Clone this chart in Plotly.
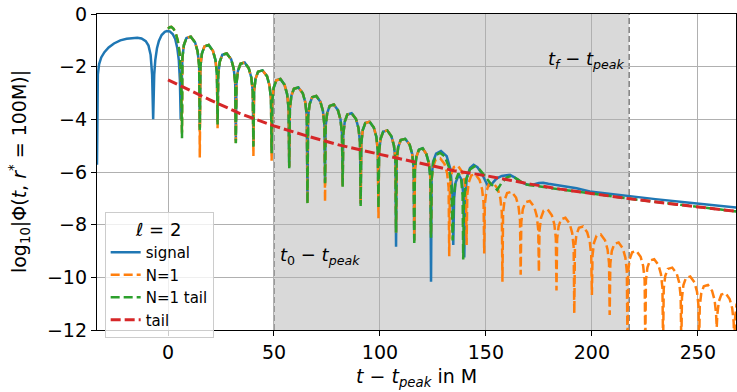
import plotly.graph_objects as go

# ---------------- data ----------------
# shared ringdown arches (interior points of lobes, 6.5 < t < 124.1)
ring_x = [6.8, 7.5, 8.7, 10.75, 12.8, 14.0, 14.7,
          15.3, 16.0, 17.2, 19.2, 21.2, 22.4, 23.1,
          23.7, 24.4, 25.6, 27.7, 29.8, 31.0, 31.7,
          32.3, 33.0, 34.2, 36.15, 38.1, 39.3, 40.0,
          40.6, 41.3, 42.5, 44.6, 46.7, 47.9, 48.6,
          49.2, 49.9, 51.1, 53.05, 55.0, 56.2, 56.9,
          57.5, 58.2, 59.4, 61.5, 63.6, 64.8, 65.5,
          66.1, 66.8, 68.0, 69.95, 71.9, 73.1, 73.8,
          74.4, 75.1, 76.3, 78.25, 80.2, 81.4, 82.1,
          82.7, 83.4, 84.6, 86.65, 88.7, 89.9, 90.6,
          91.2, 91.9, 93.1, 95.1, 97.1, 98.3, 99.0,
          99.6, 100.3, 101.5, 103.45, 105.4, 106.6, 107.3,
          107.9, 108.6, 109.8, 111.9, 114.0, 115.2, 115.9,
          116.5, 117.2, 118.4, 120.15, 121.9, 123.1, 123.8]
ring_y = [-1.66, -1.18, -0.91, -0.86, -1.08, -1.43, -1.96,
          -1.98, -1.50, -1.23, -1.18, -1.40, -1.75, -2.28,
          -2.30, -1.82, -1.55, -1.50, -1.72, -2.07, -2.60,
          -2.64, -2.16, -1.89, -1.84, -2.06, -2.41, -2.94,
          -2.94, -2.46, -2.19, -2.14, -2.36, -2.71, -3.24,
          -3.27, -2.79, -2.52, -2.47, -2.69, -3.04, -3.57,
          -3.59, -3.11, -2.84, -2.79, -3.01, -3.36, -3.89,
          -3.91, -3.43, -3.16, -3.11, -3.33, -3.68, -4.21,
          -4.24, -3.76, -3.49, -3.44, -3.66, -4.01, -4.54,
          -4.57, -4.09, -3.82, -3.77, -3.99, -4.34, -4.87,
          -4.89, -4.41, -4.14, -4.09, -4.31, -4.66, -5.19,
          -5.22, -4.74, -4.47, -4.42, -4.64, -4.99, -5.52,
          -5.54, -5.06, -4.79, -4.74, -4.96, -5.31, -5.84,
          -5.90, -5.42, -5.15, -5.10, -5.32, -5.67, -6.20]
ring_dip_x = [15.0, 23.4, 32.0, 40.3, 48.9, 57.2, 65.8, 74.1, 82.4, 90.9, 99.3, 107.6, 116.2]
signal_dip_y = [-4.3, -4.1, -4.8, -5.0, -5.2, -5.8, -7.1, -6.4, -6.5, -7.2, -7.3, -8.84, -8.6]
n1_dip_y = [-5.45, -4.34, -4.9, -5.39, -5.57, -5.8, -7.2, -7.13, -6.56, -7.2, -7.76, -8.3, -8.6]
n1tail_dip_y = [-4.4, -4.2, -4.91, -5.04, -5.29, -5.86, -7.22, -6.43, -6.56, -7.29, -7.37, -8.3, -8.77]

# signal before the fits start
signal_pre_x = [-33.5, -33.35, -33.1, -32.5, -31.5, -30.0, -28.0, -25.5, -22.5, -19.5,
                -16.5, -14.5, -12.5, -10.5, -9.2, -8.2, -7.5, -7.0, -6.5, -6.0,
                -5.2, -4.3, -3.0, -1.5, -0.5, 0.8, 2.2, 3.4, 4.4, 5.1, 5.6, 6.0]
signal_pre_y = [-5.72, -3.2, -2.3, -1.9, -1.65, -1.45, -1.27, -1.12, -1.0, -0.94,
                -0.9, -0.9, -0.93, -1.03, -1.2, -1.55, -2.3, -4.0, -2.3, -1.75,
                -1.3, -1.02, -0.8, -0.68, -0.65, -0.66, -0.76, -0.95, -1.3, -1.75, -2.5, -4.0]
# signal after the shared lobes
signal_post_x = [124.1, 124.4, 125.1, 126.5, 128.8, 131.5, 133.3, 134.2, 134.6, 135.0,
                 135.7, 137.2, 138.6, 139.4, 139.8, 140.2, 141.0, 142.5, 144.2, 146.0,
                 148.0, 149.8, 151.1, 152.8, 155.0, 157.5, 160.0, 161.3, 163.5, 166.5,
                 169.5, 172.5, 175.0, 177.0, 179.5, 183.4, 188.0, 192.8, 199.0, 205.0,
                 211.0, 217.6, 230.0, 245.0, 258.0, 268.5]
signal_post_y = [-10.17, -6.2, -5.6, -5.3, -5.2, -5.4, -5.9, -6.8, -8.77, -7.0,
                 -6.4, -6.11, -6.3, -6.9, -9.25, -7.0, -6.2, -5.85, -5.73, -5.82,
                 -6.05, -6.35, -6.55, -6.45, -6.25, -6.15, -6.12, -6.11, -6.2, -6.38,
                 -6.48, -6.47, -6.42, -6.41, -6.45, -6.5, -6.56, -6.62, -6.74, -6.8,
                 -6.86, -6.92, -7.03, -7.16, -7.27, -7.35]

# start of both fits
fit_start_x = [0.0, 0.8, 1.6, 2.6, 3.6, 4.6, 5.5, 6.1, 6.6]
n1_start_y = [-0.56, -0.5, -0.49, -0.56, -0.72, -1.0, -1.5, -2.3, -4.5]
n1tail_start_y = [-0.56, -0.5, -0.49, -0.56, -0.72, -1.0, -1.5, -2.3, -4.72]

# N=1 fit after the shared lobes
n1_arch_x = [124.4, 125.1, 126.3, 128.4, 130.5, 131.7, 132.4,
             133.0, 133.7, 134.9, 136.8, 138.7, 139.9, 140.6,
             141.2, 141.9, 143.1, 145.05, 147.0, 148.2, 148.9,
             149.5, 150.2, 151.4, 153.5, 155.6, 156.8, 157.5,
             158.1, 158.8, 160.0, 162.1, 164.2, 165.4, 166.1,
             166.7, 167.4, 168.6, 170.7, 172.8, 174.0, 174.7,
             175.3, 176.0, 177.2, 179.15, 181.1, 182.3, 183.0,
             183.6, 184.3, 185.5, 187.5, 189.5, 190.7, 191.4,
             192.0, 192.7, 193.9, 195.85, 197.8, 199.0, 199.7,
             200.3, 201.0, 202.2, 204.2, 206.2, 207.4, 208.1,
             208.7, 209.4, 210.6, 212.6, 214.6, 215.8, 216.5,
             217.1, 217.8, 219.0, 221.0, 223.0, 224.2, 224.9,
             225.5, 226.2, 227.4, 229.4, 231.4, 232.6, 233.3,
             233.9, 234.6, 235.8, 237.9, 240.0, 241.2, 241.9,
             242.5, 243.2, 244.4, 246.4, 248.4, 249.6, 250.3,
             250.9, 251.6, 252.8, 254.75, 256.7, 257.9, 258.6,
             259.2, 259.9, 261.1, 263.05, 265.0, 266.2, 266.9]
n1_arch_y = [-6.28, -5.80, -5.53, -5.48, -5.70, -6.05, -6.58,
             -6.56, -6.08, -5.81, -5.76, -5.98, -6.33, -6.86,
             -6.88, -6.40, -6.13, -6.08, -6.30, -6.65, -7.18,
             -7.22, -6.74, -6.47, -6.42, -6.64, -6.99, -7.52,
             -7.55, -7.07, -6.80, -6.75, -6.97, -7.32, -7.85,
             -7.90, -7.42, -7.15, -7.10, -7.32, -7.67, -8.20,
             -8.22, -7.74, -7.47, -7.42, -7.64, -7.99, -8.52,
             -8.54, -8.06, -7.79, -7.74, -7.96, -8.31, -8.84,
             -8.87, -8.39, -8.12, -8.07, -8.29, -8.64, -9.17,
             -9.17, -8.69, -8.42, -8.37, -8.59, -8.94, -9.47,
             -9.48, -9.00, -8.73, -8.68, -8.90, -9.25, -9.78,
             -9.80, -9.32, -9.05, -9.00, -9.22, -9.57, -10.10,
             -10.11, -9.63, -9.36, -9.31, -9.53, -9.88, -10.41,
             -10.43, -9.95, -9.68, -9.63, -9.85, -10.20, -10.73,
             -10.77, -10.29, -10.02, -9.97, -10.19, -10.54, -11.07,
             -11.09, -10.61, -10.34, -10.29, -10.51, -10.86, -11.39,
             -11.40, -10.92, -10.65, -10.60, -10.82, -11.17, -11.70]
n1_dip2_x = [124.1, 132.7, 140.9, 149.2, 157.8, 166.4, 175.0, 183.3, 191.7, 200.0,
             208.4, 216.8, 225.2, 233.6, 242.2, 250.6, 258.9, 267.2, 267.5, 268.3]
n1_dip2_y = [-8.4, -9.2, -8.77, -9.09, -10.17, -9.9, -9.8, -10.5, -11.37, -10.67,
             -11.43, -12.6, -12.6, -12.6, -12.6, -12.6, -11.9, -12.6, -11.6, -11.0]

# N=1 tail fit after the shared lobes
n1tail_post_x = [124.1, 124.4, 125.1, 126.5, 128.3, 130.5, 132.5, 133.7, 134.3, 134.8,
                 135.6, 137.0, 138.3, 139.0, 139.3, 139.7, 140.6, 142.5, 144.8, 147.0,
                 149.5, 152.0, 155.3, 157.5, 160.0, 162.1, 165.0, 168.0, 170.8, 175.0,
                 185.0, 200.0, 218.0, 240.0, 268.5]
n1tail_post_y = [-8.5, -6.3, -5.65, -5.35, -5.27, -5.4, -5.8, -6.5, -8.6, -7.0,
                 -6.35, -6.05, -6.25, -6.9, -9.32, -7.1, -6.3, -5.9, -5.78, -5.9,
                 -6.15, -6.42, -6.68, -6.4, -6.2, -6.15, -6.28, -6.45, -6.5, -6.54,
                 -6.66, -6.82, -7.02, -7.23, -7.5]

# pure tail
tail_x = [0, 10, 20, 34, 50, 65, 81, 100, 119, 135, 150, 157, 171, 185, 200, 218, 240, 268.5]
tail_y = [-2.5, -2.9, -3.27, -3.78, -4.25, -4.62, -4.98, -5.33, -5.68, -5.95, -6.14,
          -6.25, -6.46, -6.65, -6.82, -7.02, -7.23, -7.5]

t0 = 50.0
tf = 217.6
x_ticks = [0, 50, 100, 150, 200, 250]
y_ticks = [-12, -10, -8, -6, -4, -2, 0]


def assemble(*parts):
    pts = []
    for xs, ys in parts:
        pts.extend(zip(xs, ys))
    pts.sort(key=lambda p: p[0])
    return [p[0] for p in pts], [p[1] for p in pts]


sig_x, sig_y = assemble((signal_pre_x, signal_pre_y), (ring_x, ring_y),
                        (ring_dip_x, signal_dip_y), (signal_post_x, signal_post_y))
n1_x, n1_y = assemble((fit_start_x, n1_start_y), (ring_x, ring_y), (ring_dip_x, n1_dip_y),
                      (n1_arch_x, n1_arch_y), (n1_dip2_x, n1_dip2_y))
nt_x, nt_y = assemble((fit_start_x, n1tail_start_y), (ring_x, ring_y),
                      (ring_dip_x, n1tail_dip_y), (n1tail_post_x, n1tail_post_y))

FONT = "DejaVu Sans"
fig = go.Figure()
fig.add_trace(go.Scatter(x=sig_x, y=sig_y, mode="lines", name="signal",
                         line=dict(color="#1f77b4", width=2.5)))
fig.add_trace(go.Scatter(x=n1_x, y=n1_y, mode="lines", name="N=1",
                         line=dict(color="#ff7f0e", width=2.5, dash="9px,4px")))
fig.add_trace(go.Scatter(x=nt_x, y=nt_y, mode="lines", name="N=1 tail",
                         line=dict(color="#2ca02c", width=2.5, dash="9px,4px")))
fig.add_trace(go.Scatter(x=tail_x, y=tail_y, mode="lines", name="tail",
                         line=dict(color="#d62728", width=3, dash="10px,4px")))

fig.add_shape(type="rect", x0=t0, x1=tf, y0=0, y1=1, xref="x", yref="paper",
              fillcolor="#d9d9d9", line=dict(width=0), layer="below")
for xv in (t0, tf):
    fig.add_shape(type="line", x0=xv, x1=xv, y0=0, y1=1, xref="x", yref="paper",
                  line=dict(color="#808080", width=1.5, dash="6px,3px"), layer="below")

fig.add_annotation(x=tf - 1, y=-1.75, xref="x", yref="y", xanchor="right", yanchor="middle",
                   text="<i>t</i><sub><i>f</i></sub> − <i>t</i><sub><i>peak</i></sub>",
                   showarrow=False, font=dict(family=FONT, size=18, color="black"))
fig.add_annotation(x=t0 + 2, y=-9.2, xref="x", yref="y", xanchor="left", yanchor="middle",
                   text="<i>t</i><sub>0</sub> − <i>t</i><sub><i>peak</i></sub>",
                   showarrow=False, font=dict(family=FONT, size=18, color="black"))
fig.add_annotation(x=0.5, y=-0.15, xref="paper", yref="paper", xanchor="center", yanchor="middle",
                   text="<i>t</i> − <i>t</i><sub><i>peak</i></sub> in M",
                   showarrow=False, font=dict(family=FONT, size=19, color="black"))
fig.add_annotation(x=-0.122, y=0.5, xref="paper", yref="paper", xanchor="center", yanchor="middle",
                   textangle=-90,
                   text="log<sub>10</sub>|Φ(<i>t</i>, <i>r</i><sup>*</sup> = 100M)|",
                   showarrow=False, font=dict(family=FONT, size=19, color="black"))

axis_common = dict(showgrid=True, gridcolor="#b0b0b0", gridwidth=1, showline=True,
                   linecolor="black", linewidth=1.3, mirror=True, ticks="outside",
                   ticklen=5, tickwidth=1.3, tickcolor="black", zeroline=False,
                   tickfont=dict(family=FONT, size=19, color="black"))
fig.update_layout(
    width=737, height=392,
    margin=dict(l=97, r=1, t=14, b=62),
    paper_bgcolor="white", plot_bgcolor="white",
    xaxis=dict(range=[-33.5, 268], tickvals=x_ticks, **axis_common),
    yaxis=dict(range=[-12, 0], tickvals=y_ticks, **axis_common),
    showlegend=True,
    legend=dict(x=0.012, y=0.375, xanchor="left", yanchor="top",
                bgcolor="rgba(255,255,255,0.8)", bordercolor="#cccccc", borderwidth=1,
                font=dict(family=FONT, size=15, color="black"),
                title=dict(text="<i>ℓ</i> = 2", side="top center",
                           font=dict(family=FONT, size=18, color="black")),
                itemwidth=30, tracegroupgap=0),
)
fig.write_html("out.html")
